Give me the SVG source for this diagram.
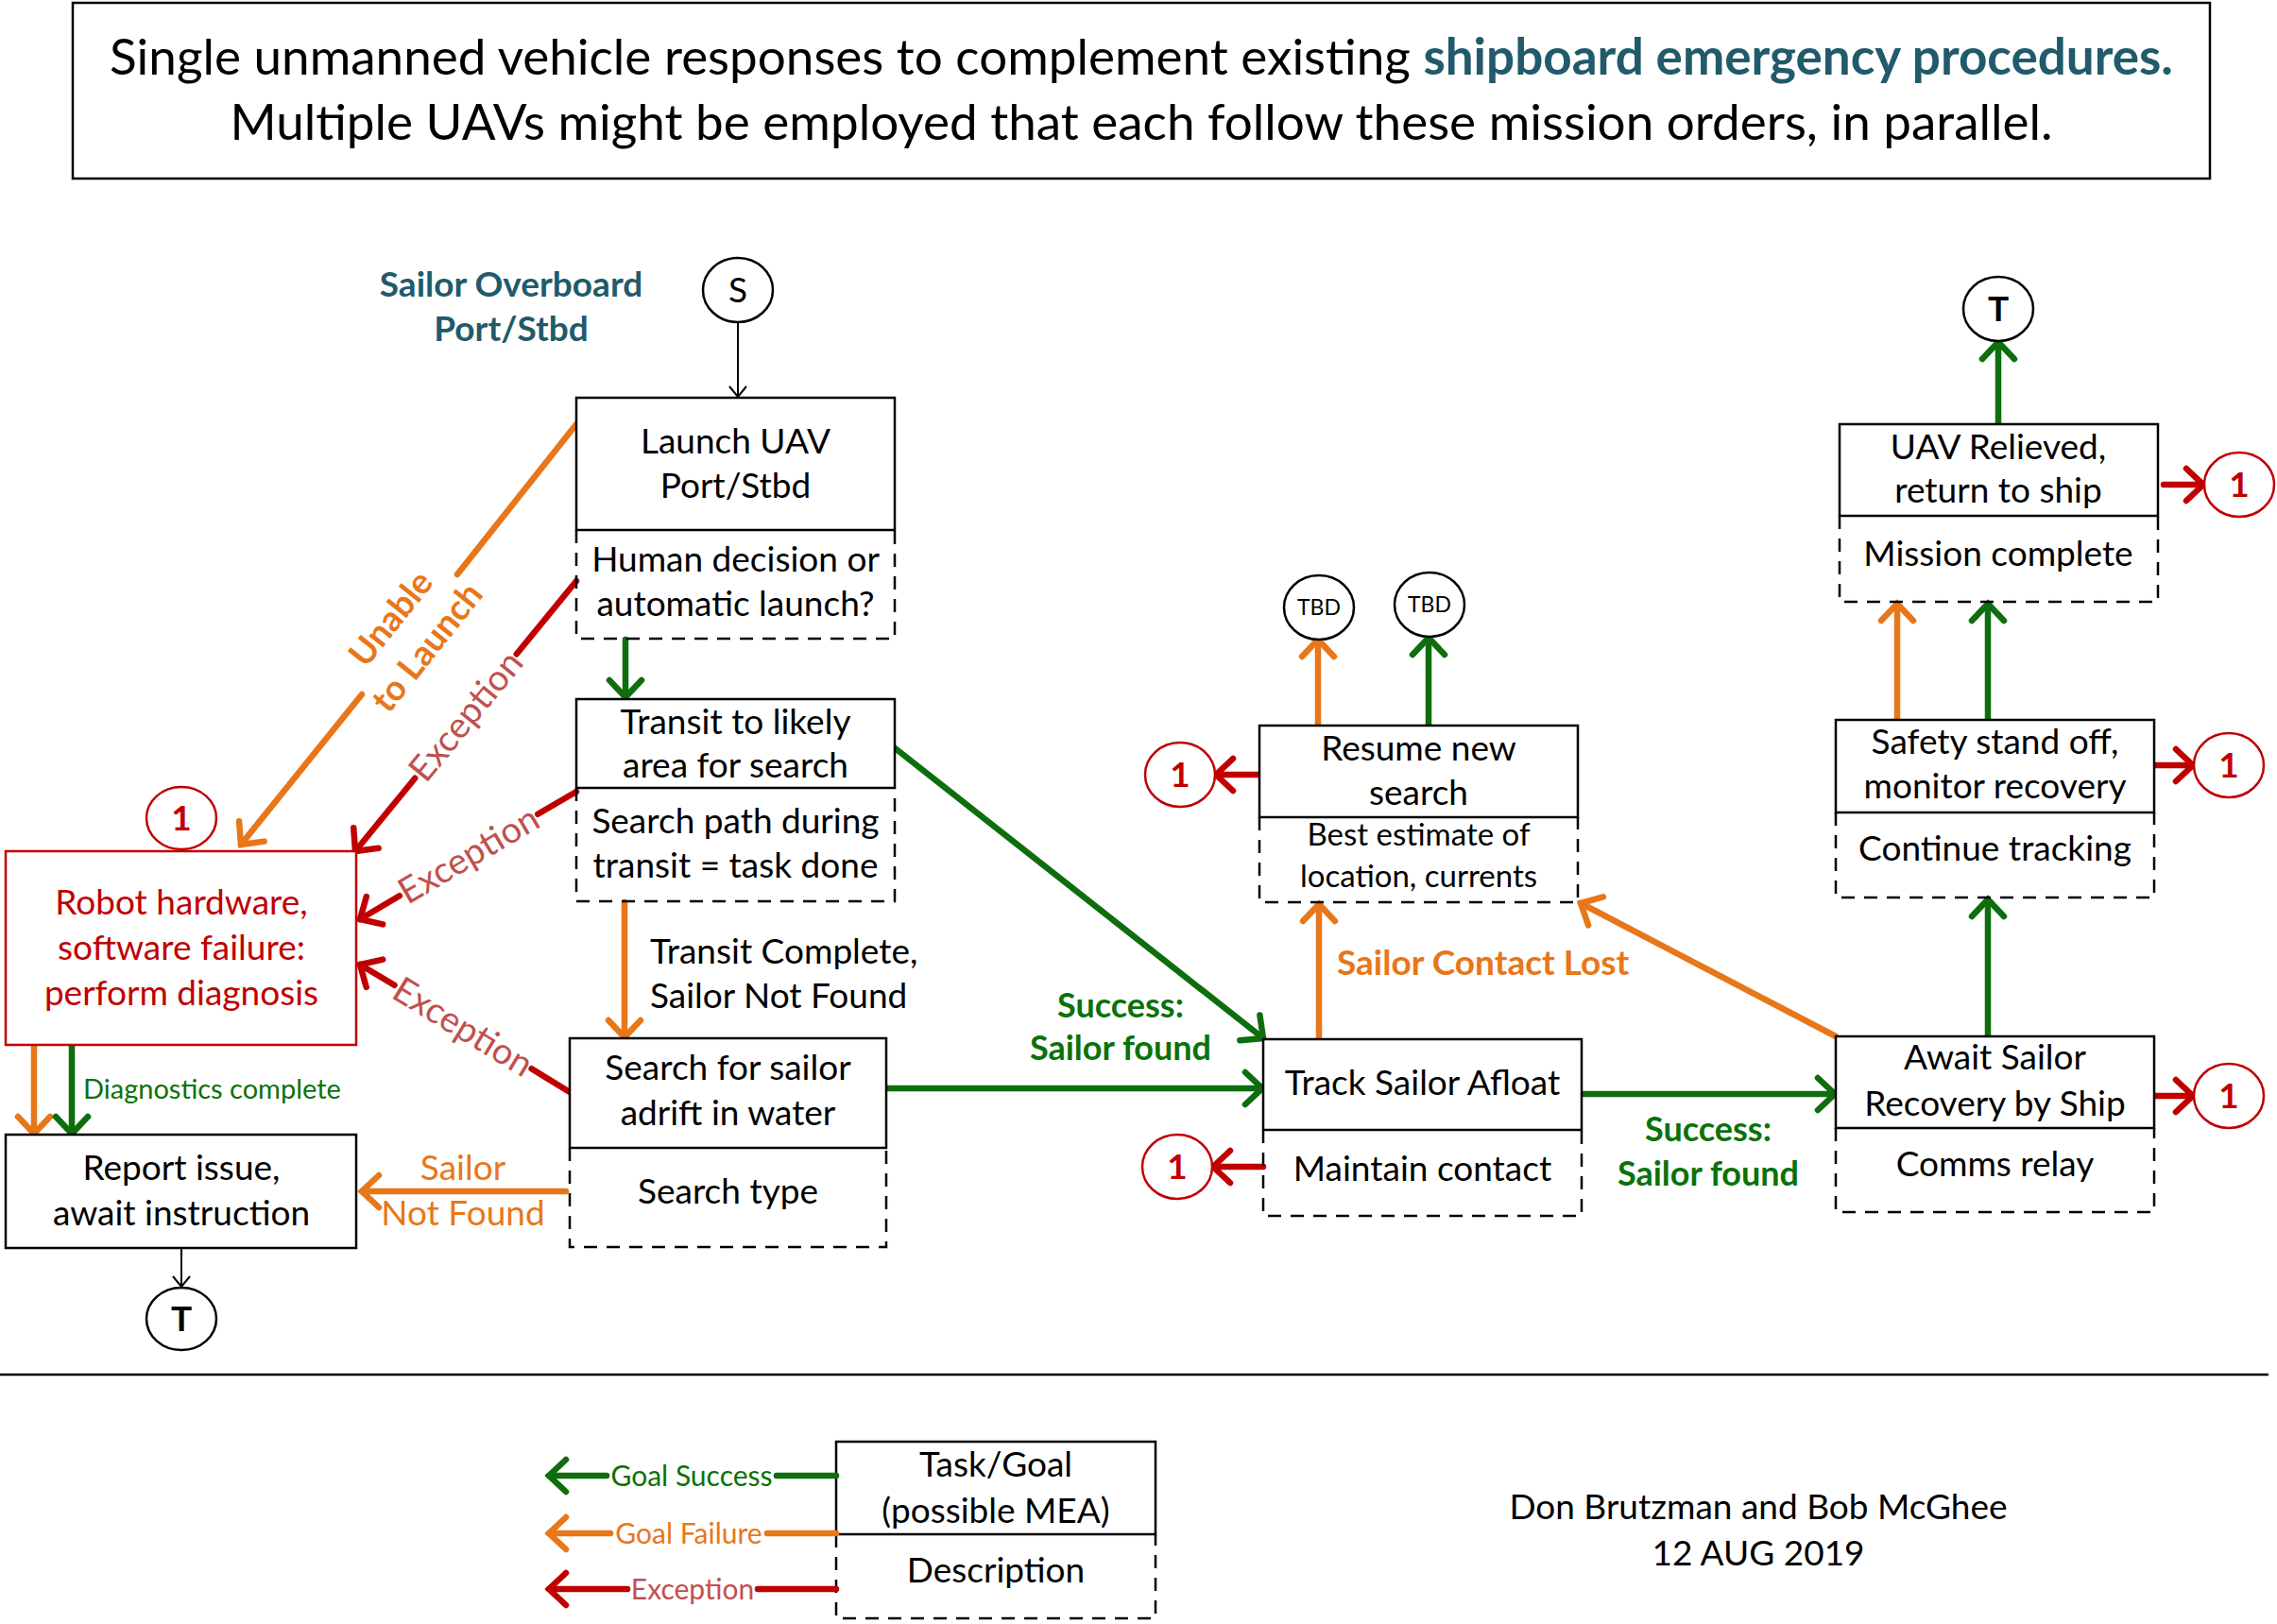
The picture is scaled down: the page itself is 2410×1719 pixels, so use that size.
<svg xmlns="http://www.w3.org/2000/svg" width="2410" height="1719" viewBox="0 0 2410 1719">
<defs>
<style>
.bx{fill:#fff;stroke:#000;stroke-width:2.5}
.ds{fill:none;stroke:#000;stroke-width:2.5;stroke-dasharray:14 10}
.rb{fill:#fff;stroke:#C00000;stroke-width:2.5}
.t{font-family:Lato,'Open Sans',sans-serif;font-size:37px;text-anchor:middle;fill:#000}
.tl{font-family:Lato,'Open Sans',sans-serif;font-size:37px;fill:#000}
.b{font-weight:bold}
.teal{fill:#215A6B}
.red{fill:#C00000}
.exc{fill:#C0504D}
.grn{fill:#0A720A}
.org{fill:#E8771A}
.cir{fill:#fff;stroke:#000;stroke-width:2.5}
.cr{fill:#fff;stroke:#C00000;stroke-width:2.5}
.lg{stroke:#0E6E0E;stroke-width:6.5;fill:none;stroke-linecap:round}
.lo{stroke:#E8771A;stroke-width:6.5;fill:none;stroke-linecap:round}
.lr{stroke:#C00000;stroke-width:6.5;fill:none;stroke-linecap:round}
.lk{stroke:#000;stroke-width:2;fill:none}
</style>
<marker id="ag" markerUnits="userSpaceOnUse" viewBox="-30 -22 36 44" markerWidth="36" markerHeight="44" refX="0" refY="0" orient="auto"><path d="M-18,-17 L0,0 L-18,17" fill="none" stroke="#0E6E0E" stroke-width="6.5" stroke-linecap="round"/></marker>
<marker id="ao" markerUnits="userSpaceOnUse" viewBox="-30 -22 36 44" markerWidth="36" markerHeight="44" refX="0" refY="0" orient="auto"><path d="M-18,-17 L0,0 L-18,17" fill="none" stroke="#E8771A" stroke-width="6.5" stroke-linecap="round"/></marker>
<marker id="ar" markerUnits="userSpaceOnUse" viewBox="-30 -22 36 44" markerWidth="36" markerHeight="44" refX="0" refY="0" orient="auto"><path d="M-18,-17 L0,0 L-18,17" fill="none" stroke="#C00000" stroke-width="6.5" stroke-linecap="round"/></marker>
<marker id="ak" markerUnits="userSpaceOnUse" viewBox="-16 -12 20 24" markerWidth="20" markerHeight="24" refX="0" refY="0" orient="auto"><path d="M-11,-9 L0,0 L-11,9" fill="none" stroke="#000" stroke-width="2"/></marker>
</defs>
<rect width="2410" height="1719" fill="#fff"/>

<g id="title">
<rect x="77" y="3" width="2262" height="186" fill="#fff" stroke="#000" stroke-width="2.5"/>
<text class="t" x="1208" y="79" style="font-size:53px">Single unmanned vehicle responses to complement existing <tspan class="b teal">shipboard emergency procedures.</tspan></text>
<text class="t" x="1208" y="148" style="font-size:53px">Multiple UAVs might be employed that each follow these mission orders, in parallel.</text>
</g>

<g id="start-label">
<text class="t b teal" x="541" y="314">Sailor Overboard</text>
<text class="t b teal" x="541" y="361">Port/Stbd</text>
</g>

<g id="connectors">
<line class="lk" x1="781" y1="341" x2="781" y2="420" marker-end="url(#ak)"/>
<line class="lk" x1="192" y1="1321" x2="192" y2="1362" marker-end="url(#ak)"/>
<line class="lg" x1="662" y1="677" x2="662" y2="738" marker-end="url(#ag)"/>
<line class="lo" x1="661" y1="955" x2="661" y2="1098" marker-end="url(#ao)"/>
<line class="lo" x1="36" y1="1107" x2="36" y2="1200" marker-end="url(#ao)"/>
<line class="lg" x1="76" y1="1107" x2="76" y2="1200" marker-end="url(#ag)"/>
<line class="lo" x1="599" y1="1261" x2="383" y2="1261" marker-end="url(#ao)"/>
<line class="lr" x1="610" y1="615" x2="546.8" y2="692.2"/>
<line class="lr" x1="439.2" y1="823.8" x2="376" y2="901" marker-end="url(#ar)"/>
<line class="lr" x1="610" y1="838" x2="569.2" y2="861.8"/>
<line class="lr" x1="422.8" y1="948.2" x2="381" y2="973" marker-end="url(#ar)"/>
<line class="lr" x1="603" y1="1156" x2="562.6" y2="1131.2"/>
<line class="lr" x1="417.4" y1="1042.8" x2="381" y2="1021" marker-end="url(#ar)"/>
<line class="lo" x1="610" y1="449" x2="484" y2="608"/>
<line class="lo" x1="383" y1="735" x2="255" y2="894" marker-end="url(#ao)"/>
<line class="lg" x1="946" y1="791" x2="1337" y2="1099" marker-end="url(#ag)"/>
<line class="lg" x1="939" y1="1152" x2="1336" y2="1152" marker-end="url(#ag)"/>
<line class="lo" x1="1396" y1="1100" x2="1396" y2="957" marker-end="url(#ao)"/>
<line class="lo" x1="1395" y1="768" x2="1395" y2="677" marker-end="url(#ao)"/>
<line class="lg" x1="1512" y1="768" x2="1512" y2="675" marker-end="url(#ag)"/>
<line class="lr" x1="1333" y1="820" x2="1287" y2="820" marker-end="url(#ar)"/>
<line class="lr" x1="1337" y1="1235" x2="1284" y2="1235" marker-end="url(#ar)"/>
<line class="lg" x1="1676" y1="1158" x2="1942" y2="1158" marker-end="url(#ag)"/>
<line class="lo" x1="1943" y1="1097" x2="1673" y2="956" marker-end="url(#ao)"/>
<line class="lg" x1="2104" y1="1097" x2="2104" y2="952" marker-end="url(#ag)"/>
<line class="lo" x1="2008" y1="762" x2="2008" y2="639" marker-end="url(#ao)"/>
<line class="lg" x1="2104" y1="762" x2="2104" y2="639" marker-end="url(#ag)"/>
<line class="lg" x1="2115" y1="449" x2="2115" y2="362" marker-end="url(#ag)"/>
<line class="lr" x1="2290" y1="513" x2="2332" y2="513" marker-end="url(#ar)"/>
<line class="lr" x1="2281" y1="810" x2="2321" y2="810" marker-end="url(#ar)"/>
<line class="lr" x1="2281" y1="1160" x2="2321" y2="1160" marker-end="url(#ar)"/>
</g>

<g id="connector-labels">
<text class="tl grn" x="88" y="1163" style="font-size:29px">Diagnostics complete</text>
<text class="t org" x="490" y="1249">Sailor</text>
<text class="t org" x="490" y="1297">Not Found</text>
<text class="tl" x="688" y="1020">Transit Complete,</text>
<text class="tl" x="688" y="1067">Sailor Not Found</text>
<text class="t exc" x="493" y="771" style="font-size:38px" transform="rotate(-50.7 493 758)">Exception</text>
<text class="t exc" x="496" y="918" style="font-size:38px" transform="rotate(-30.5 496 905)">Exception</text>
<text class="t exc" x="490" y="1100" style="font-size:38px" transform="rotate(31.3 490 1087)">Exception</text>
<g transform="rotate(-51.4 433 670)">
<text class="t b org" x="433" y="658">Unable</text>
<text class="t b org" x="433" y="707">to Launch</text>
</g>
<text class="t b grn" x="1186" y="1077" style="font-size:36px">Success:</text>
<text class="t b grn" x="1186" y="1122" style="font-size:36px">Sailor found</text>
<text class="t b grn" x="1808" y="1208" style="font-size:36px">Success:</text>
<text class="t b grn" x="1808" y="1255" style="font-size:36px">Sailor found</text>
<text class="tl b org" x="1415" y="1032">Sailor Contact Lost</text>
</g>

<g id="node-start">
<ellipse class="cir" cx="781" cy="307" rx="37" ry="34"/>
<text class="t" x="781" y="320">S</text>
</g>

<g id="node-launch">
<rect class="bx" x="610" y="421" width="337" height="140"/>
<path class="ds" d="M610,561 V676 H947 V561"/>
<text class="t" x="778.5" y="480">Launch UAV</text>
<text class="t" x="778.5" y="527">Port/Stbd</text>
<text class="t" x="778.5" y="605">Human decision or</text>
<text class="t" x="778.5" y="652">automatic launch?</text>
</g>

<g id="node-transit">
<rect class="bx" x="610" y="740" width="337" height="94"/>
<path class="ds" d="M610,834 V954 H947 V834"/>
<text class="t" x="778.5" y="777">Transit to likely</text>
<text class="t" x="778.5" y="823">area for search</text>
<text class="t" x="778.5" y="882">Search path during</text>
<text class="t" x="778.5" y="929">transit = task done</text>
</g>

<g id="node-search">
<rect class="bx" x="603" y="1099" width="335" height="116"/>
<path class="ds" d="M603,1215 V1320 H938 V1215"/>
<text class="t" x="770.5" y="1143">Search for sailor</text>
<text class="t" x="770.5" y="1191">adrift in water</text>
<text class="t" x="770.5" y="1274">Search type</text>
</g>

<g id="node-robot">
<rect class="rb" x="6" y="901" width="371" height="205"/>
<text class="t red" x="192" y="968">Robot hardware,</text>
<text class="t red" x="192" y="1016">software failure:</text>
<text class="t red" x="192" y="1064">perform diagnosis</text>
</g>

<g id="node-robot-ref">
<ellipse class="cr" cx="192" cy="866" rx="37" ry="33"/>
<text class="t b red" x="192" y="879">1</text>
</g>

<g id="node-report">
<rect class="bx" x="6" y="1201" width="371" height="120"/>
<text class="t" x="192" y="1249">Report issue,</text>
<text class="t" x="192" y="1297">await instruction</text>
</g>

<g id="node-end-left">
<ellipse class="cir" cx="192" cy="1396" rx="37" ry="33"/>
<text class="t b" x="192" y="1409">T</text>
</g>

<g id="node-resume">
<rect class="bx" x="1333" y="768" width="337" height="97"/>
<path class="ds" d="M1333,865 V955 H1670 V865"/>
<text class="t" x="1501.5" y="805">Resume new</text>
<text class="t" x="1501.5" y="852">search</text>
<text class="t" x="1501.5" y="895" style="font-size:33px">Best estimate of</text>
<text class="t" x="1501.5" y="939" style="font-size:33px">location, currents</text>
</g>

<g id="node-tbd1">
<ellipse class="cir" cx="1396" cy="643" rx="37" ry="34"/>
<text class="t" x="1396" y="651" style="font-size:23px">TBD</text>
</g>
<g id="node-tbd2">
<ellipse class="cir" cx="1513" cy="640" rx="37" ry="34"/>
<text class="t" x="1513" y="648" style="font-size:23px">TBD</text>
</g>
<g id="node-resume-ref">
<ellipse class="cr" cx="1249" cy="820" rx="37" ry="34"/>
<text class="t b red" x="1249" y="833">1</text>
</g>

<g id="node-track">
<rect class="bx" x="1337" y="1100" width="337" height="96"/>
<path class="ds" d="M1337,1196 V1287 H1674 V1196"/>
<text class="t" x="1505.5" y="1159">Track Sailor Afloat</text>
<text class="t" x="1505.5" y="1250">Maintain contact</text>
</g>
<g id="node-track-ref">
<ellipse class="cr" cx="1246" cy="1235" rx="37" ry="34"/>
<text class="t b red" x="1246" y="1248">1</text>
</g>

<g id="node-await">
<rect class="bx" x="1943" y="1097" width="337" height="97"/>
<path class="ds" d="M1943,1194 V1283 H2280 V1194"/>
<text class="t" x="2111.5" y="1132">Await Sailor</text>
<text class="t" x="2111.5" y="1181">Recovery by Ship</text>
<text class="t" x="2111.5" y="1245">Comms relay</text>
</g>
<g id="node-await-ref">
<ellipse class="cr" cx="2359" cy="1160" rx="37" ry="34"/>
<text class="t b red" x="2359" y="1173">1</text>
</g>

<g id="node-safety">
<rect class="bx" x="1943" y="762" width="337" height="98"/>
<path class="ds" d="M1943,860 V950 H2280 V860"/>
<text class="t" x="2111.5" y="798">Safety stand off,</text>
<text class="t" x="2111.5" y="845">monitor recovery</text>
<text class="t" x="2111.5" y="911">Continue tracking</text>
</g>
<g id="node-safety-ref">
<ellipse class="cr" cx="2359" cy="810" rx="37" ry="34"/>
<text class="t b red" x="2359" y="823">1</text>
</g>

<g id="node-uav">
<rect class="bx" x="1947" y="449" width="337" height="97"/>
<path class="ds" d="M1947,546 V637 H2284 V546"/>
<text class="t" x="2115" y="486">UAV Relieved,</text>
<text class="t" x="2115" y="532">return to ship</text>
<text class="t" x="2115" y="599">Mission complete</text>
</g>
<g id="node-uav-ref">
<ellipse class="cr" cx="2370" cy="513" rx="37" ry="34"/>
<text class="t b red" x="2370" y="526">1</text>
</g>
<g id="node-end-right">
<ellipse class="cir" cx="2115" cy="327" rx="37" ry="34"/>
<text class="t b" x="2115" y="340">T</text>
</g>

<line x1="0" y1="1455" x2="2401" y2="1455" stroke="#000" stroke-width="2.5"/>

<g id="legend">
<rect class="bx" x="885" y="1526" width="338" height="98"/>
<path class="ds" d="M885,1624 V1713 H1223 V1624"/>
<text class="t" x="1054" y="1563">Task/Goal</text>
<text class="t" x="1054" y="1612">(possible MEA)</text>
<text class="t" x="1054" y="1675">Description</text>
<line class="lg" x1="885" y1="1562" x2="822" y2="1562"/>
<line class="lg" x1="642" y1="1562" x2="581" y2="1562" marker-end="url(#ag)"/>
<text class="t grn" x="732" y="1573" style="font-size:30px">Goal Success</text>
<line class="lo" x1="885" y1="1623" x2="812" y2="1623"/>
<line class="lo" x1="646" y1="1623" x2="581" y2="1623" marker-end="url(#ao)"/>
<text class="t org" x="729" y="1634" style="font-size:30px">Goal Failure</text>
<line class="lr" x1="885" y1="1682" x2="802" y2="1682"/>
<line class="lr" x1="664" y1="1682" x2="581" y2="1682" marker-end="url(#ar)"/>
<text class="t exc" x="733" y="1693" style="font-size:30px">Exception</text>
</g>

<g id="credits">
<text class="t" x="1861" y="1608">Don Brutzman and Bob McGhee</text>
<text class="t" x="1861" y="1657">12 AUG 2019</text>
</g>
</svg>
